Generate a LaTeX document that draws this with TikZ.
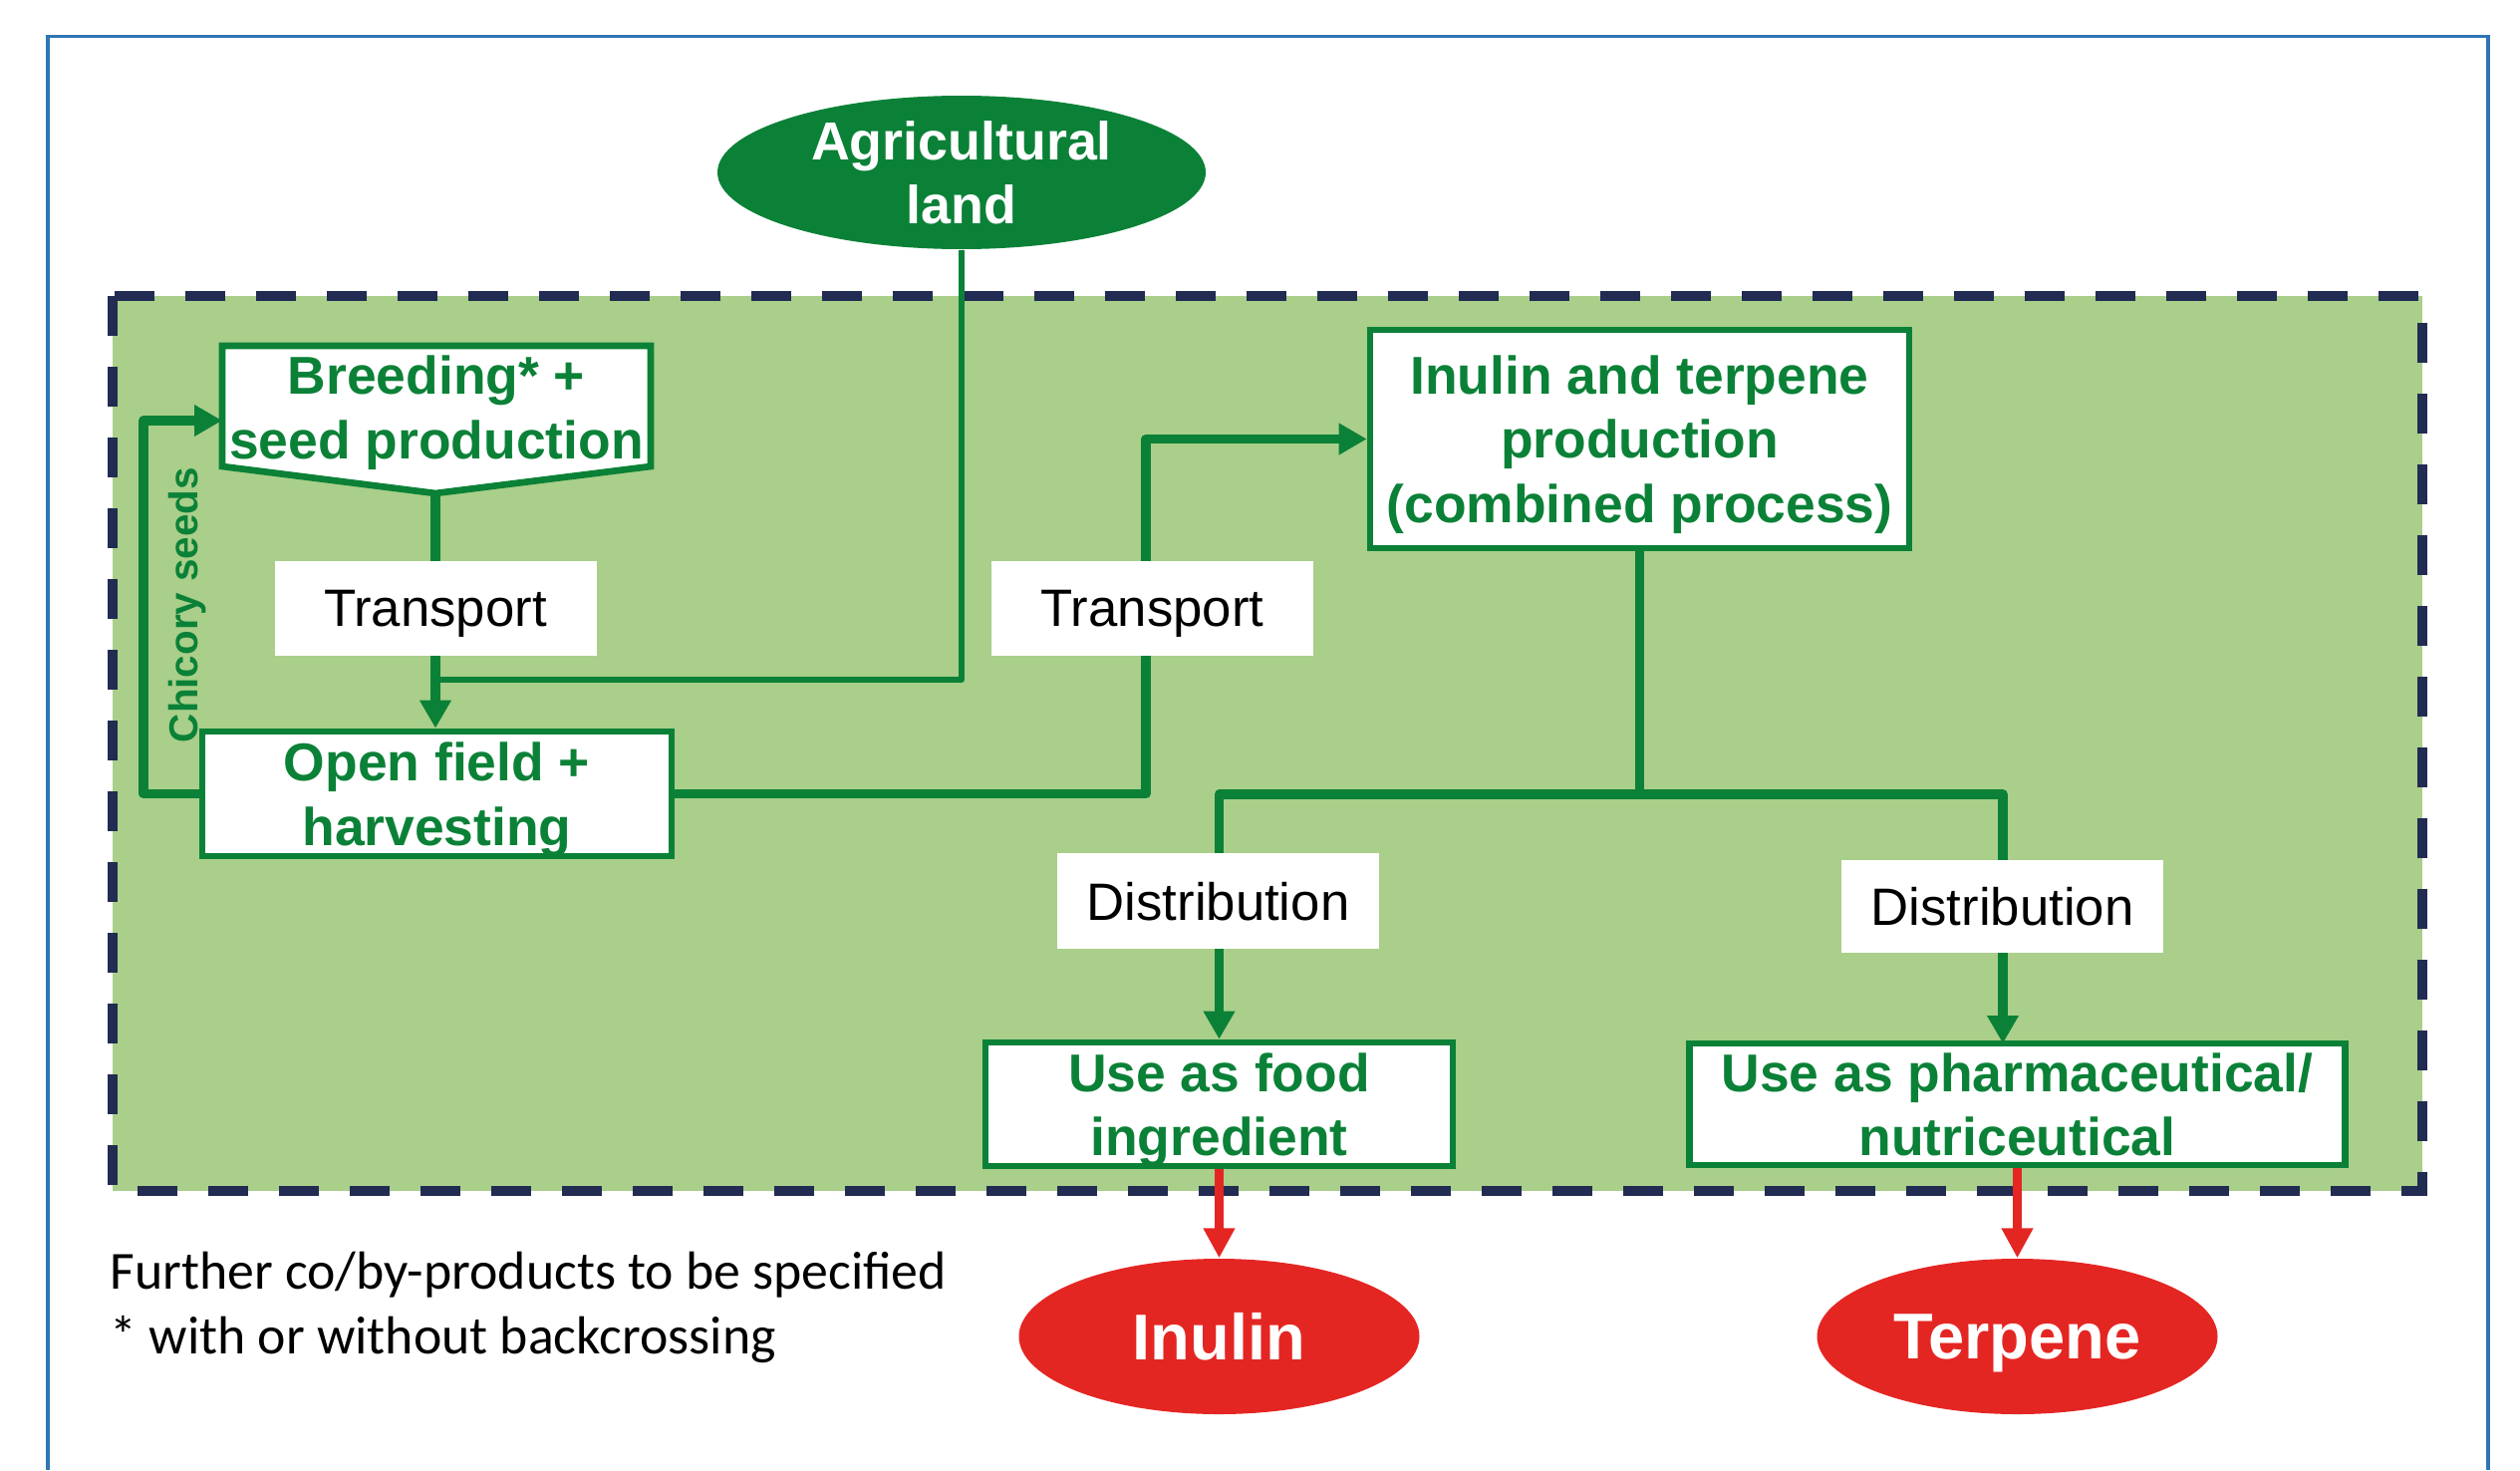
\documentclass[tikz,border=0pt]{standalone}
\usepackage{fontspec}
\setmainfont{Liberation Sans}
\newfontfamily\notefont{Carlito}
\usetikzlibrary{arrows.meta,shapes.geometric}
\definecolor{leafgreen}{RGB}{11,129,55}
\definecolor{fieldgreen}{RGB}{169,207,138}
\definecolor{borderblue}{RGB}{34,43,82}
\definecolor{productred}{RGB}{228,38,35}
\definecolor{frameblue}{RGB}{47,117,181}
\tikzset{
  stagebox/.style={draw=leafgreen, fill=white, line width=1.9pt, inner sep=0pt, text=leafgreen,
    font=\bfseries\fontsize{15.2}{18.3}\selectfont, align=center, text depth=0pt},
  steplabel/.style={fill=white, inner sep=0pt, minimum width=3.23cm, minimum height=0.95cm,
    text depth=0pt, font=\fontsize{15}{18}\selectfont},
  link/.style={draw=leafgreen, line width=2.6pt, line join=round},
  flow/.style={link, -{Triangle[length=0.28cm,width=0.3cm]}},
  productflow/.style={draw=productred, line width=2.6pt, -{Triangle[length=0.3cm,width=0.3cm]}},
  product/.style={ellipse, fill=productred, text=white, minimum width=4.02cm, minimum height=1.56cm,
    inner sep=0pt, text depth=0pt, font=\bfseries\fontsize{18.5}{22}\selectfont}
}
\begin{document}
\begin{tikzpicture}
  \useasboundingbox (0,0) rectangle (25.29,-14.75);
  \draw[frameblue, line width=1pt] (0.48,-14.75) -- (0.48,-0.365) -- (24.97,-0.365) -- (24.97,-14.75);
  \fill[fieldgreen] (1.13,-2.97) rectangle (24.31,-11.95);
  \draw[borderblue, line width=2.8pt, dash pattern=on 0.4cm off 0.31cm] (1.13,-2.97) rectangle (24.31,-11.95);

  \node[ellipse, fill=leafgreen, text=white, minimum width=4.9cm, minimum height=1.54cm, inner sep=0pt,
    font=\bfseries\fontsize{15.3}{18.2}\selectfont, align=center, text depth=0pt] (agri) at (9.65,-1.73) {Agricultural\\land};
  \draw[draw=leafgreen, fill=white, line width=1.9pt] (2.23,-3.47) -- (6.53,-3.47) -- (6.53,-4.68)
    -- (4.37,-4.95) coordinate (breedtip) -- (2.23,-4.68) -- cycle;
  \node[stagebox, draw=none, fill=none] (breed) at (4.38,-4.085) {Breeding* +\\seed production};
  \node[stagebox, minimum width=4.71cm, minimum height=1.25cm] (field) at (4.385,-7.965) {Open field +\\harvesting};
  \node[stagebox, minimum width=5.41cm, minimum height=2.19cm] (plant) at (16.455,-4.405) {Inulin and terpene\\production\\(combined process)};
  \node[stagebox, minimum width=4.69cm, minimum height=1.24cm] (food) at (12.235,-11.08) {Use as food\\ingredient};
  \node[stagebox, minimum width=6.58cm, minimum height=1.22cm] (pharma) at (20.245,-11.08) {Use as pharmaceutical/\\nutriceutical};
  \node[product] (inulin) at (12.235,-13.41) {Inulin};
  \node[product] (terpene) at (20.245,-13.41) {Terpene};

  \coordinate (join) at (4.37,-6.82);
  \coordinate (seedloop) at (1.44,-7.965);
  \coordinate (seedin) at (2.23,-4.22);
  \coordinate (bend) at (11.50,-4.405);
  \coordinate (split) at (16.455,-7.97);
  \coordinate (pharmain) at (20.10,-10.47);

  \begin{scope}[line cap=butt]
    \draw[link, line width=1.6pt] (agri.south) |- (join);
    \draw[flow] (breedtip) -- (breedtip |- field.north);
    \draw[flow] (field.west) -- (seedloop) |- (seedin);
    \draw[flow] (field.east) -| (bend) -- (plant.west);
    \draw[link] (plant.south) -- (split);
    \draw[flow] (split) -| (food.north);
    \draw[flow] (split) -| (pharmain);
    \draw[productflow] (food.south) -- (inulin.north);
    \draw[productflow] (pharma.south) -- (terpene.north);
  \end{scope}

  \node[steplabel] (transportA) at (4.37,-6.10) {Transport};
  \node[steplabel] (transportB) at (11.565,-6.105) {Transport};
  \node[steplabel, minimum height=0.96cm] (distA) at (12.225,-9.04) {Distribution};
  \node[steplabel, minimum height=0.93cm] (distB) at (20.095,-9.095) {Distribution};
  \node[rotate=90, anchor=base, inner sep=0pt, text=leafgreen, font=\bfseries\fontsize{11.5}{14}\selectfont] (seeds) at (1.98,-6.07) {Chicory seeds};
  \node[anchor=base west, align=left, inner sep=0pt, font=\notefont\fontsize{15.3}{18.4}\selectfont] (note) at (1.10,-13.58) {Further co/by-products to be specified\\* with or without backcrossing};
\end{tikzpicture}
\end{document}
